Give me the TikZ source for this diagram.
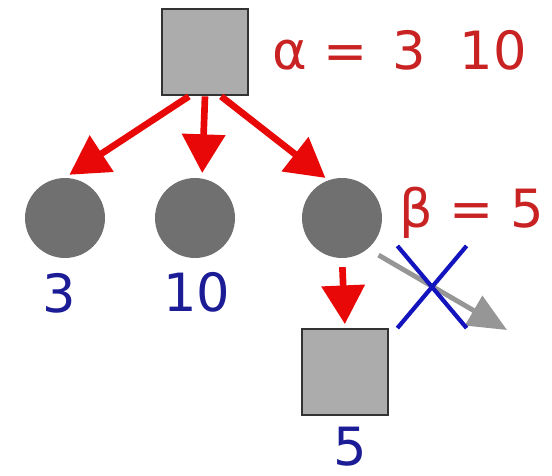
\documentclass[tikz,border=0pt]{standalone}
\usepackage{fontspec}
\setmainfont{DejaVu Sans}
\usetikzlibrary{arrows.meta,shapes.misc}
\definecolor{boxgray}{RGB}{172,172,172}
\definecolor{dotgray}{RGB}{112,112,112}
\definecolor{prunegray}{RGB}{150,150,150}
\definecolor{arrowred}{RGB}{232,8,8}
\definecolor{boundred}{RGB}{200,34,34}
\definecolor{valblue}{RGB}{28,28,150}
\definecolor{crossblue}{RGB}{20,20,190}

\begin{document}
\begin{tikzpicture}[
        x=0.02cm, y=-0.02cm,
        box/.style={draw=black!80, line width=1.6pt, fill=boxgray, minimum size=1.72cm, inner sep=0pt},
        dot/.style={circle, fill=dotgray, minimum size=1.6cm, inner sep=0pt},
        val/.style={text=valblue, inner sep=0pt, font=\fontsize{30}{34}\selectfont},
        bound/.style={text=boundred, anchor=base west, inner sep=0pt, font=\fontsize{30}{34}\selectfont},
        move/.style={draw=arrowred, line width=3.8pt, -{Triangle[length=22pt,width=24pt]}},
        pruned/.style={draw=prunegray, line width=2.8pt, -{Triangle[length=22pt,width=19pt]}},
    ]
    \useasboundingbox (0,0) rectangle (552,476);

    % Tree
    \node[box] (root) at (205,52) {};
    \node[dot] (a) at (65,218) {};
    \node[dot] (b) at (195,218) {};
    \node[dot] (c) at (342,218) {};
    \node[box] (leaf) at (345,372) {};

    % Values and bounds
    \node[val] (va) at (59,293) {3};
    \node[val] (vb) at (197,292) {10};
    \node[val] (vleaf) at (350,447) {5};
    \node[bound] (alpha) at (272,70) {α = \hspace{0.15em}3\hspace{0.64em}10};
    \node[bound] (beta) at (399,228) {β = 5};

    % Moves
    \draw[move, shorten >=3pt] (root.250) -- (a.north);
    \draw[move, shorten >=3pt] (root.south) -- (b.80);
    \draw[move, shorten >=2pt] (root.290) -- (c.110);
    \draw[move, shorten <=5pt, shorten >=2pt] (c.south) -- (leaf.north);

    % Cut-off branch
    \coordinate (cut) at (507,330);
    \draw[pruned, shorten <=7pt] (c.-50) -- (cut);
    \node[cross out, draw=crossblue, line width=2.4pt, minimum width=1.3cm, minimum height=1.56cm] (x) at (432,287) {};
\end{tikzpicture}
\end{document}
